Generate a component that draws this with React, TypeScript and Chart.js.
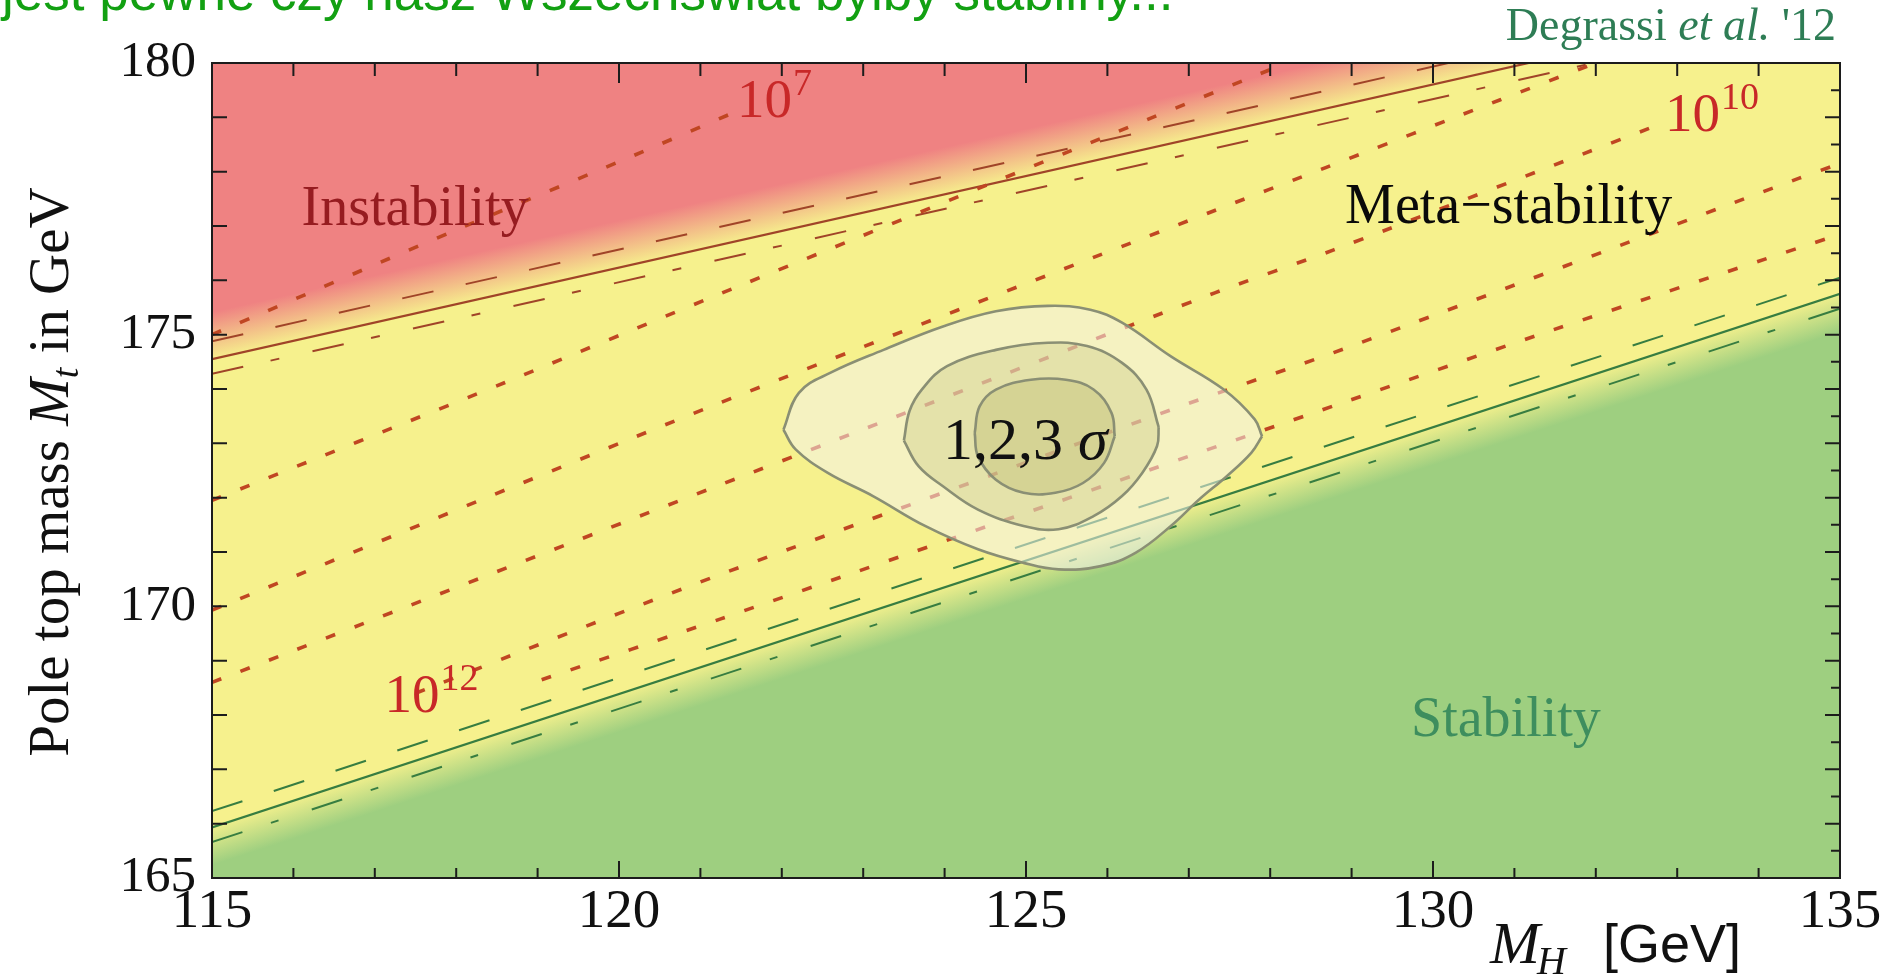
import React, { useEffect, useRef } from "react";
import { Chart, registerables } from "chart.js";

Chart.register(...registerables);

// ---------------- axes ----------------
const xMin = 115;
const xMax = 135;
const yMin = 165;
const yMax = 180;
const xLabelValues = [115, 120, 125, 130, 135];
const yLabelValues = [165, 170, 175, 180];

// ---------------- region boundaries (M_H, M_t) ----------------
const instabMH = [115, 135];
const instabMt = [174.55, 181.29];
const instabUpMt = [174.88, 181.62];
const instabLoMt = [174.28, 181.02];

const stabMH = [115, 135];
const stabMt = [165.93, 175.75];
const stabUpMt = [166.23, 176.05];
const stabLoMt = [165.66, 175.48];

// ---------------- instability-scale contours ----------------
const c7MH = [115, 118.05, 120.17, 121.35];
const c7Mt = [175.0, 176.96, 178.29, 179.05];
const cAMH = [115, 118.6, 121.06, 126.05, 128.2];
const cAMt = [171.95, 174.12, 175.64, 178.69, 180.0];
const cBMH = [115, 121.08, 127.24, 128.69, 130.82, 132.0];
const cBMt = [169.93, 173.65, 177.24, 178.08, 179.32, 180.0];
const c10MH = [115, 121.25, 123.04, 127.32, 128.78, 132.8];
const c10Mt = [168.6, 172.24, 173.28, 175.77, 176.56, 178.88];
const c12MH = [117.5, 118.75, 121.25, 126.99, 128.78, 134.5, 135];
const c12Mt = [168.4, 169.14, 170.59, 173.73, 174.67, 177.88, 178.15];
const cEMH = [119.05, 121.25, 128.8, 131.34, 134.86, 135];
const cEMt = [168.65, 169.77, 173.7, 175.02, 176.78, 176.85];

// ---------------- 1,2,3 sigma contours (upper / lower halves) ----------------
const s3UpMH = [122.02, 122.21, 122.6, 123.25, 123.98, 124.63, 125.27, 125.79, 126.18, 126.78, 127.43, 127.81, 127.9];
const s3UpMt = [173.25, 173.93, 174.3, 174.72, 175.15, 175.43, 175.53, 175.46, 175.22, 174.6, 173.99, 173.44, 173.13];
const s3LoMH = [122.02, 122.17, 122.56, 123.12, 123.76, 124.41, 124.97, 125.4, 125.92, 126.35, 126.78, 127.13, 127.47, 127.77, 127.9];
const s3LoMt = [173.25, 172.89, 172.46, 172.03, 171.48, 171.05, 170.8, 170.68, 170.74, 170.99, 171.48, 171.97, 172.4, 172.83, 173.13];

const s2UpMH = [123.5, 123.57, 123.72, 124.03, 124.63, 125.27, 125.75, 126.18, 126.48, 126.63];
const s2UpMt = [173.05, 173.6, 173.99, 174.42, 174.72, 174.85, 174.79, 174.48, 173.99, 173.3];
const s2LoMH = [123.5, 123.68, 123.98, 124.41, 124.97, 125.4, 125.83, 126.18, 126.43, 126.61, 126.63];
const s2LoMt = [173.05, 172.58, 172.21, 171.78, 171.48, 171.42, 171.66, 172.03, 172.46, 172.95, 173.3];

const s1UpMH = [124.37, 124.43, 124.63, 125.06, 125.49, 125.83, 126.05, 126.09];
const s1UpMt = [173.19, 173.68, 173.99, 174.17, 174.17, 173.99, 173.56, 173.13];
const s1LoMH = [124.37, 124.41, 124.63, 124.97, 125.36, 125.7, 125.96, 126.09];
const s1LoMt = [173.19, 172.76, 172.33, 172.09, 172.09, 172.27, 172.64, 173.13];

// ---------------- text annotations ----------------
const regionText = ["Instability", "Meta\u2212stability", "Stability"];
const regionMH = [116.1, 128.92, 129.73];
const regionMt = [177.02, 177.05, 167.62];
const powerBase = ["10", "10", "10"];
const powerExp = ["7", "10", "12"];
const powerMH = [121.45, 132.85, 117.12];
const powerMt = [179.0, 178.75, 168.05];
const sigmaText = ["1,2,3 ", "\u03c3"];
const sigmaMH = 123.98;
const sigmaMt = 172.72;

const titleText = "jest pewne czy nasz Wszechświat byłby stabilny...";
const creditText = ["Degrassi ", "et al.", " '12"];
const yTitle = ["Pole top mass ", "M", "t", " in GeV"];
const xTitle = ["M", "H", "[GeV]"];

// ---------------- styles ----------------
const SERIF = "'Liberation Serif', 'Times New Roman', Times, serif";
const SANS = "'Liberation Sans', Arial, Helvetica, sans-serif";
const YELLOW = "rgb(246,241,141)";
const RED_RGB = "239,130,130";
const GREEN_RGB = "158,207,128";
const DOT_COLOR = "rgb(192,70,34)";
const RED_LINE = "rgb(160,68,40)";
const GREEN_LINE = "rgb(55,125,65)";

const pts = (xs: number[], ys: number[]) => xs.map((x, i) => ({ x, y: ys[i] }));

function bandGradient(chart: any, xs: number[], ys: number[], startOff: number, endOff: number, rgb: string) {
  const { ctx, chartArea, scales } = chart;
  if (!chartArea || !scales || !scales.x) return `rgba(${rgb},1)`;
  const x0 = scales.x.getPixelForValue(xs[0]);
  const y0 = scales.y.getPixelForValue(ys[0]);
  const x1 = scales.x.getPixelForValue(xs[xs.length - 1]);
  const y1 = scales.y.getPixelForValue(ys[ys.length - 1]);
  const len = Math.hypot(x1 - x0, y1 - y0);
  const dx = (x1 - x0) / len;
  const dy = (y1 - y0) / len;
  const nx = dy;
  const ny = -dx; // normal pointing "up"
  const g = ctx.createLinearGradient(x0 + nx * startOff, y0 + ny * startOff, x0 + nx * endOff, y0 + ny * endOff);
  g.addColorStop(0, `rgba(${rgb},0)`);
  g.addColorStop(1, `rgba(${rgb},1)`);
  return g;
}

const base = { pointRadius: 0, pointHoverRadius: 0, clip: 0, tension: 0, fill: false };

function buildDatasets() {
  const ds: any[] = [];
  // colored regions
  ds.push({ ...base, data: pts(instabMH, instabMt), borderWidth: 0, borderColor: "rgba(0,0,0,0)", fill: "end", order: 100,
    backgroundColor: (c: any) => bandGradient(c.chart, instabMH, instabMt, -2, 46, RED_RGB) });
  ds.push({ ...base, data: pts(stabMH, stabMt), borderWidth: 0, borderColor: "rgba(0,0,0,0)", fill: "start", order: 99,
    backgroundColor: (c: any) => bandGradient(c.chart, stabMH, stabMt, 4, -36, GREEN_RGB) });
  // instability boundary
  ds.push({ ...base, data: pts(instabMH, instabMt), borderColor: RED_LINE, borderWidth: 2.2, order: 90 });
  ds.push({ ...base, data: pts(instabMH, instabUpMt), borderColor: RED_LINE, borderWidth: 2, borderDash: [32, 33], order: 89 });
  ds.push({ ...base, data: pts(instabMH, instabLoMt), borderColor: RED_LINE, borderWidth: 2, borderDash: [32, 28, 9, 34], order: 88 });
  // stability boundary
  ds.push({ ...base, data: pts(stabMH, stabMt), borderColor: GREEN_LINE, borderWidth: 2.2, order: 87 });
  ds.push({ ...base, data: pts(stabMH, stabUpMt), borderColor: GREEN_LINE, borderWidth: 2, borderDash: [32, 33], order: 86 });
  ds.push({ ...base, data: pts(stabMH, stabLoMt), borderColor: GREEN_LINE, borderWidth: 2, borderDash: [32, 30, 8, 35], order: 85 });
  // instability scale contours
  const dotted = { borderColor: DOT_COLOR, borderWidth: 3.6, borderDash: [10, 20.6], tension: 0.2 };
  ds.push({ ...base, ...dotted, data: pts(c7MH, c7Mt), order: 80 });
  ds.push({ ...base, ...dotted, data: pts(cAMH, cAMt), order: 79 });
  ds.push({ ...base, ...dotted, data: pts(cBMH, cBMt), order: 78 });
  ds.push({ ...base, ...dotted, data: pts(c10MH, c10Mt), order: 77 });
  ds.push({ ...base, ...dotted, data: pts(c12MH, c12Mt), order: 76 });
  ds.push({ ...base, ...dotted, data: pts(cEMH, cEMt), order: 75 });
  // sigma contours
  const cont = { borderColor: "rgb(138,143,116)", borderWidth: 2.6, tension: 0.4 };
  ds.push({ ...base, ...cont, data: pts(s3UpMH, s3UpMt), fill: "+1", backgroundColor: "rgba(244,242,236,0.55)", order: 60 });
  ds.push({ ...base, ...cont, data: pts(s3LoMH, s3LoMt), order: 59 });
  ds.push({ ...base, ...cont, data: pts(s2UpMH, s2UpMt), fill: "+1", backgroundColor: "rgba(190,190,120,0.3)", order: 58 });
  ds.push({ ...base, ...cont, data: pts(s2LoMH, s2LoMt), order: 57 });
  ds.push({ ...base, ...cont, data: pts(s1UpMH, s1UpMt), fill: "+1", backgroundColor: "rgba(180,175,100,0.3)", order: 56 });
  ds.push({ ...base, ...cont, data: pts(s1LoMH, s1LoMt), order: 55 });
  return ds;
}

function txt(ctx: any, s: string, x: number, y: number, font: string, color: string, align: CanvasTextAlign = "left") {
  ctx.font = font;
  ctx.fillStyle = color;
  ctx.textAlign = align;
  ctx.textBaseline = "alphabetic";
  ctx.fillText(s, x, y);
  return ctx.measureText(s).width;
}

const decorPlugin = {
  id: "decor",
  beforeDraw(chart: any) {
    const { ctx, chartArea: a } = chart;
    ctx.save();
    ctx.fillStyle = YELLOW;
    ctx.fillRect(a.left, a.top, a.right - a.left, a.bottom - a.top);
    ctx.restore();
  },
  afterDatasetsDraw(chart: any) {
    const { ctx, chartArea: a, scales } = chart;
    const xs = scales.x;
    const ys = scales.y;
    ctx.save();
    // region labels
    const regionColors = ["rgb(150,28,32)", "rgb(10,10,10)", "rgb(62,142,94)"];
    regionText.forEach((t, i) => {
      txt(ctx, t, xs.getPixelForValue(regionMH[i]), ys.getPixelForValue(regionMt[i]), `56px ${SERIF}`, regionColors[i]);
    });
    // power labels
    powerBase.forEach((b, i) => {
      const px = xs.getPixelForValue(powerMH[i]);
      const py = ys.getPixelForValue(powerMt[i]);
      const w = txt(ctx, b, px, py, `55px ${SERIF}`, "rgb(200,40,40)");
      txt(ctx, powerExp[i], px + w + 1, py - 22, `38px ${SERIF}`, "rgb(200,40,40)");
    });
    // sigma label
    {
      const px = xs.getPixelForValue(sigmaMH);
      const py = ys.getPixelForValue(sigmaMt);
      const w = txt(ctx, sigmaText[0], px, py, `60px ${SERIF}`, "#111");
      txt(ctx, sigmaText[1], px + w, py, `italic 60px ${SERIF}`, "#111");
    }
    // frame
    ctx.strokeStyle = "#1c1c1c";
    ctx.lineWidth = 2;
    ctx.strokeRect(a.left, a.top, a.right - a.left, a.bottom - a.top);
    ctx.beginPath();
    // bottom / top ticks every 1 GeV
    for (let v = xMin; v <= xMax; v++) {
      const p = xs.getPixelForValue(v);
      const major = v % 5 === 0;
      const lb = major ? 17 : 10;
      const lt = major ? 20 : 13;
      ctx.moveTo(p, a.bottom);
      ctx.lineTo(p, a.bottom - lb);
      ctx.moveTo(p, a.top);
      ctx.lineTo(p, a.top + lt);
    }
    // left ticks every 1
    for (let v = yMin; v <= yMax; v++) {
      const p = ys.getPixelForValue(v);
      ctx.moveTo(a.left, p);
      ctx.lineTo(a.left + 15, p);
    }
    // right ticks every 0.5
    for (let k = 0; k <= (yMax - yMin) * 2; k++) {
      const v = yMin + k / 2;
      const p = ys.getPixelForValue(v);
      const len = k % 2 === 0 ? 15 : 9;
      ctx.moveTo(a.right, p);
      ctx.lineTo(a.right - len, p);
    }
    ctx.stroke();
    ctx.restore();
  },
  afterDraw(chart: any) {
    const { ctx } = chart;
    ctx.save();
    // slide title (cut off at the top of the picture)
    txt(ctx, titleText, 2, 10, `53px ${SANS}`, "rgb(18,160,18)");
    // credit
    {
      const green = "rgb(46,125,85)";
      ctx.font = `46px ${SERIF}`;
      const w0 = ctx.measureText(creditText[0]).width;
      const w2 = ctx.measureText(creditText[2]).width;
      ctx.font = `italic 46px ${SERIF}`;
      const w1 = ctx.measureText(creditText[1]).width;
      let x = 1836 - (w0 + w1 + w2);
      x += txt(ctx, creditText[0], x, 40, `46px ${SERIF}`, green);
      x += txt(ctx, creditText[1], x, 40, `italic 46px ${SERIF}`, green);
      txt(ctx, creditText[2], x, 40, `46px ${SERIF}`, green);
    }
    // y-axis title (rotated)
    {
      ctx.save();
      ctx.translate(68, 472);
      ctx.rotate(-Math.PI / 2);
      const fN = `57px ${SERIF}`;
      const fI = `italic 57px ${SERIF}`;
      const fS = `italic 38px ${SERIF}`;
      ctx.font = fN;
      const a0 = ctx.measureText(yTitle[0]).width;
      const a3 = ctx.measureText(yTitle[3]).width;
      ctx.font = fI;
      const a1 = ctx.measureText(yTitle[1]).width;
      ctx.font = fS;
      const a2 = ctx.measureText(yTitle[2]).width;
      let x = -(a0 + a1 + a2 + a3) / 2;
      x += txt(ctx, yTitle[0], x, 0, fN, "#111");
      x += txt(ctx, yTitle[1], x, 0, fI, "#111");
      x += txt(ctx, yTitle[2], x, 10, fS, "#111");
      txt(ctx, yTitle[3], x, 0, fN, "#111");
      ctx.restore();
    }
    // x-axis title
    {
      let x = 1490;
      x += txt(ctx, xTitle[0], x, 963, `italic 60px ${SERIF}`, "#111");
      txt(ctx, xTitle[1], x - 3, 974, `italic 40px ${SERIF}`, "#111");
      txt(ctx, xTitle[2], 1603, 962, `54px ${SANS}`, "#111");
    }
    ctx.restore();
  },
};

export default function App() {
  const ref = useRef<HTMLCanvasElement | null>(null);
  useEffect(() => {
    document.body.style.margin = "0";
    document.body.style.background = "#ffffff";
    const canvas = ref.current;
    if (!canvas) return;
    const chart = new Chart(canvas, {
      type: "line",
      data: { datasets: buildDatasets() },
      plugins: [decorPlugin],
      options: {
        responsive: false,
        animation: false,
        devicePixelRatio: 1,
        events: [],
        layout: { padding: { left: 0, right: 59, top: 63, bottom: 0 } },
        plugins: {
          legend: { display: false },
          tooltip: { enabled: false },
          title: { display: false },
        },
        scales: {
          x: {
            type: "linear",
            min: xMin,
            max: xMax,
            afterFit: (s: any) => { s.height = 97; },
            grid: { display: false, drawTicks: false },
            border: { display: false },
            ticks: {
              stepSize: 1,
              autoSkip: false,
              maxRotation: 0,
              minRotation: 0,
              padding: 2,
              color: "#111",
              font: { family: SERIF, size: 55 },
              callback: (v: any) => (xLabelValues.includes(Number(v)) ? String(v) : ""),
            },
          },
          y: {
            type: "linear",
            min: yMin,
            max: yMax,
            afterFit: (s: any) => { s.width = 212; },
            grid: { display: false, drawTicks: false },
            border: { display: false },
            ticks: {
              stepSize: 1,
              autoSkip: false,
              padding: 16,
              color: "#111",
              font: { family: SERIF, size: 51 },
              callback: (v: any) => (yLabelValues.includes(Number(v)) ? String(v) : ""),
            },
          },
        },
      } as any,
    } as any);
    return () => chart.destroy();
  }, []);
  return (
    <div style={{ width: 1899, height: 975, position: "relative", background: "#fff", overflow: "hidden" }}>
      <canvas ref={ref} width={1899} height={975} style={{ display: "block", width: 1899, height: 975 }} />
    </div>
  );
}
